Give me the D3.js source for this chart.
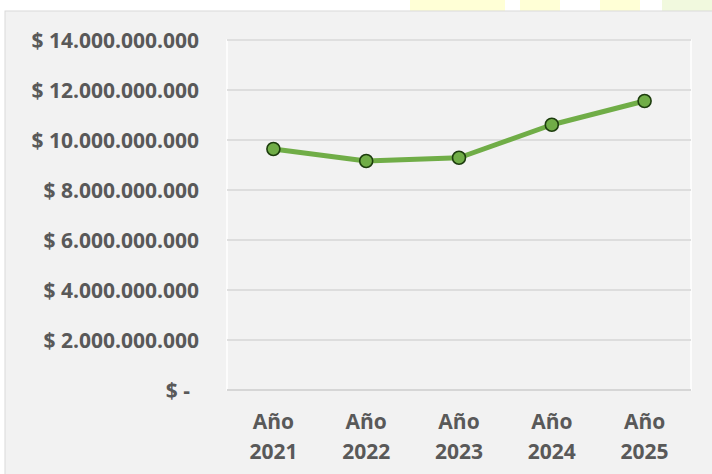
<!DOCTYPE html>
<html><head><meta charset="utf-8">
<script src="https://cdn.jsdelivr.net/npm/d3@7"></script>
<style>html,body{margin:0;padding:0;background:#fff;overflow:hidden}</style>
</head><body>
<svg id="c" width="712" height="474"></svg>
<script>
const categories = ["Año 2021","Año 2022","Año 2023","Año 2024","Año 2025"];
const values = [9640000000, 9160000000, 9290000000, 10610000000, 11560000000];
const yTicks = [0, 2e9, 4e9, 6e9, 8e9, 10e9, 12e9, 14e9];

const svg = d3.select("#c");
const font = "'Open Sans', sans-serif";
const textColor = "#595959";

// top watermark remnants
const deco = [[410,95,"#ffffd6"],[520,40,"#ffffd6"],[600,40,"#ffffd6"],[662,50,"#f1f9de"]];
svg.selectAll("rect.deco").data(deco).join("rect")
  .attr("x", d=>d[0]).attr("y",0).attr("width",d=>d[1]).attr("height",11).attr("fill",d=>d[2]);

// chart background
svg.append("rect").attr("x",5).attr("y",11).attr("width",712).attr("height",470)
  .attr("fill","#f2f2f2").attr("stroke","#d9d9d9").attr("stroke-width",1);

const m = {left:227, right:691, top:40, bottom:390};
const x = d3.scaleBand().domain(categories).range([m.left,m.right]);
const y = d3.scaleLinear().domain([0,14e9]).range([m.bottom,m.top]);

// plot area
svg.append("rect").attr("x",m.left).attr("y",m.top).attr("width",m.right-m.left).attr("height",m.bottom-m.top)
  .attr("fill","#f2f2f2").attr("stroke","#ffffff").attr("stroke-width",1.5);

// gridlines
svg.append("g").selectAll("line").data(yTicks.filter(d=>d>0)).join("line")
  .attr("x1",m.left).attr("x2",m.right)
  .attr("y1",d=>y(d)).attr("y2",d=>y(d))
  .attr("stroke","#d6d6d6").attr("stroke-width",1.5);
svg.append("line").attr("x1",m.left).attr("x2",m.right).attr("y1",y(0)).attr("y2",y(0))
  .attr("stroke","#d6d6d6").attr("stroke-width",1.8);

// y labels
const fmt = v => v===0 ? "$ -" : "$ " + d3.format(",")(v).replace(/,/g,".");
svg.append("g").selectAll("text").data(yTicks).join("text")
  .attr("x", d=> d===0 ? 190 : 199)
  .attr("y", d=>y(d))
  .attr("dy","0.36em")
  .attr("text-anchor","end")
  .attr("font-family",font).attr("font-weight","bold").attr("font-size","21px")
  .attr("fill",textColor)
  .text(fmt);

// x labels
const xl = svg.append("g").selectAll("text").data(categories).join("text")
  .attr("x", d=>x(d)+x.bandwidth()/2)
  .attr("text-anchor","middle")
  .attr("font-family",font).attr("font-weight","bold").attr("font-size","21px")
  .attr("fill",textColor);
xl.append("tspan").attr("x", d=>x(d)+x.bandwidth()/2).attr("y",429).text(d=>d.split(" ")[0]);
xl.append("tspan").attr("x", d=>x(d)+x.bandwidth()/2).attr("y",459).text(d=>d.split(" ")[1]);

// line
const data = categories.map((c,i)=>({c, v:values[i]}));
svg.append("path").datum(data)
  .attr("d", d3.line().x(d=>x(d.c)+x.bandwidth()/2).y(d=>y(d.v)))
  .attr("fill","none").attr("stroke","#70ad47").attr("stroke-width",5).attr("stroke-linejoin","round");

svg.append("g").selectAll("circle").data(data).join("circle")
  .attr("cx", d=>x(d.c)+x.bandwidth()/2).attr("cy", d=>y(d.v)).attr("r",6.5)
  .attr("fill","#70ad47").attr("stroke","#1d3d0e").attr("stroke-width",1.6);
</script>
</body></html>
